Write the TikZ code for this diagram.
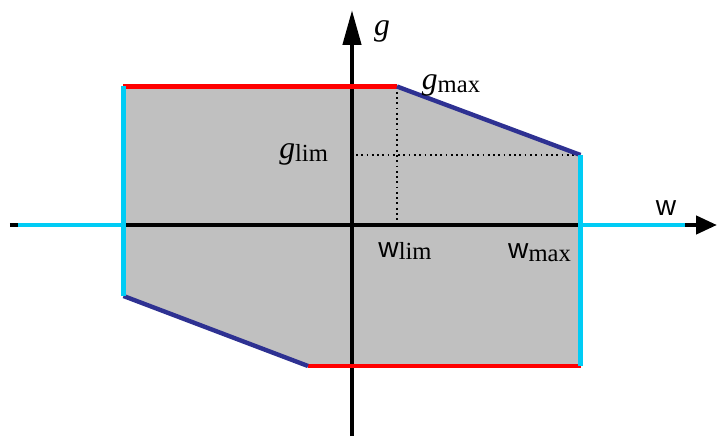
\documentclass[tikz,border=0pt]{standalone}
\usepackage{fontspec}
\setmainfont{Liberation Serif}
\setsansfont{Liberation Sans}
\usetikzlibrary{arrows.meta}
\definecolor{edgered}{RGB}{255,0,0}
\definecolor{edgenavy}{RGB}{46,49,146}
\definecolor{edgecyan}{RGB}{0,204,245}
\definecolor{regiongray}{RGB}{192,192,192}
\newcommand{\gsym}[1]{{\fontsize{18}{21}\selectfont\itshape g}\raisebox{-0.45ex}{\fontsize{14}{16}\selectfont #1}}
\newcommand{\wsym}[1]{{\fontsize{16}{19}\selectfont\sffamily w}\raisebox{-0.35ex}{\fontsize{14}{16}\selectfont #1}}

\begin{document}
\begin{tikzpicture}[every node/.style={inner sep=1pt},
  axis/.style={line width=2.5pt,black},
  edge/.style={line width=2.5pt},
  guide/.style={line width=1pt,dotted}]
\useasboundingbox (-7.04,-4.22) rectangle (7.32,4.5);
% limits
\coordinate (TL) at (-4.57,2.77); \coordinate (TR) at (0.9,2.77);
\coordinate (RU) at (4.57,1.4); \coordinate (RD) at (4.57,-2.82);
\coordinate (BL) at (-0.88,-2.82); \coordinate (LD) at (-4.57,-1.42);
\coordinate (O) at (0,0);
\fill[regiongray] (TL)--(TR)--(RU)--(RD)--(BL)--(LD)--cycle;
% guides
\draw[guide] (TR)--(TR|-O);
\draw[guide] (0.08,1.4)--(RU);
% axes
\coordinate (XL) at (-6.84,0); \coordinate (XR) at (7.30,0);
\coordinate (YB) at (0,-4.22); \coordinate (YT) at (0,4.3);
\draw[axis,-{Triangle[length=0.42cm,width=0.36cm]}] (XL)--(XR);
\draw[axis,-{Triangle[length=0.7cm,width=0.36cm]}] (YB)--(YT);
% edges
\draw[edge,edgered] (TL)--(TR); \draw[edge,edgered] (BL)--(RD);
\draw[edge,edgenavy] (TR)--(RU); \draw[edge,edgenavy] (LD)--(BL);
\draw[edge,edgecyan] (TL)--(LD); \draw[edge,edgecyan] (RU)--(RD);
\draw[edge,edgecyan] (-6.68,0)--(TL|-O);
\draw[edge,edgecyan] (RU|-O)--(6.66,0);
% labels
\node (g) at (0.6,3.88) {\fontsize{18}{21}\selectfont\itshape g};
\node (gmax) at (1.98,2.8) {\gsym{max}};
\node[anchor=east] (glim) at (-0.44,1.42) {\gsym{lim}};
\node (w) at (6.28,0.34) {\fontsize{16}{19}\selectfont\sffamily w};
\node (wlim) at (1.06,-0.52) {\wsym{lim}};
\node[anchor=east] (wmax) at (4.42,-0.56) {\wsym{max}};
\end{tikzpicture}
\end{document}
